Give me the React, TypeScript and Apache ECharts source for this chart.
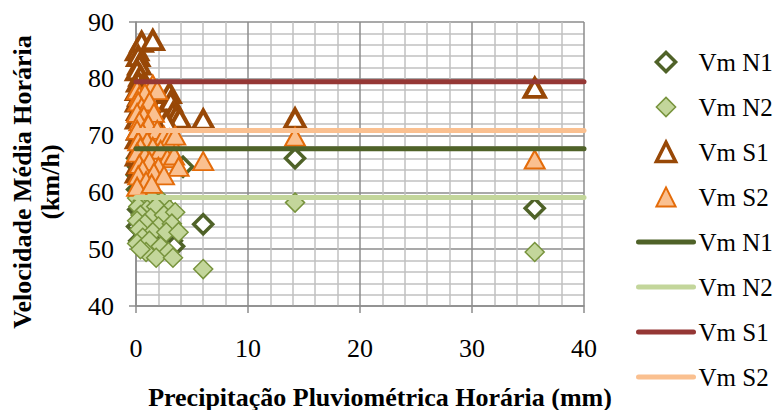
import React, { useEffect, useRef } from "react";
import * as echarts from "echarts";

// Vm N1 (hollow dark-green diamonds): [precipitation mm, speed km/h]
const n1Points: number[][] = [
  [0.1, 66], [0.2, 64.5], [0.1, 63], [0.3, 62], [4.2, 64.5], [0.1, 60.5], [0.4, 59.5],
  [1.0, 58], [0.2, 57], [1.5, 56], [0.5, 55], [2.0, 55.5], [0.1, 54], [3.0, 54],
  [0.8, 53], [2.6, 52.5], [3.2, 51.5], [2.8, 50.5], [3.4, 50.5], [0.3, 51.5], [1.5, 51],
  [6.0, 54.4], [14.2, 66], [35.6, 57.2],
];
// Vm N2 (filled light-green diamonds)
const n2Points: number[][] = [
  [0.1, 59], [0.6, 58.5], [1.4, 59], [2.3, 58.5], [0.2, 57.5], [1.0, 57], [1.8, 57.5],
  [3.0, 57], [0.4, 56], [1.3, 55.5], [2.5, 56], [3.5, 56.5], [0.1, 55], [0.8, 54.5],
  [2.0, 54], [3.2, 54.5], [0.3, 53.5], [1.5, 53], [2.7, 53], [0.6, 52], [3.8, 53],
  [0.1, 51], [1.2, 51.5], [2.2, 50.5], [0.9, 49.5], [2.9, 49.5], [1.8, 48.5], [3.3, 48.5],
  [0.4, 50], [6.0, 46.5], [14.2, 58.2], [35.6, 49.5],
];
// Vm S1 (hollow brown triangles)
const s1Points: number[][] = [
  [0.1, 85], [0.5, 86.5], [1.5, 86.8], [0.2, 84], [0.3, 82.5], [0.1, 81.5], [0.4, 80.5],
  [0.2, 79.5], [0.6, 79], [0.1, 78], [0.9, 78.5], [0.3, 77], [1.3, 77.5], [0.1, 76],
  [0.6, 75.5], [1.8, 76], [2.2, 75.5], [0.2, 74.5], [1.0, 74], [2.6, 74.5], [3.0, 77.5],
  [3.1, 76], [3.3, 74], [3.6, 73.5], [3.9, 73], [2.7, 72.5], [0.1, 73], [0.5, 72],
  [1.5, 73], [0.2, 71], [0.1, 69.5], [0.3, 68], [0.1, 66.5], [0.2, 65], [0.1, 63.5],
  [6.0, 72.8], [14.2, 73], [35.6, 78.4],
];
// Vm S2 (filled light-orange triangles)
const s2Points: number[][] = [
  [0.1, 78], [1.5, 79], [0.3, 77], [0.8, 77.5], [1.9, 78], [0.2, 76], [0.5, 75],
  [1.2, 76], [0.1, 74], [0.7, 73.5], [1.6, 74], [0.3, 72.5], [1.1, 72], [0.1, 71],
  [0.6, 70.5], [1.9, 71], [2.5, 70], [0.2, 69], [1.0, 69], [3.0, 69.5], [3.5, 70],
  [0.4, 68], [1.5, 68], [2.2, 67.5], [0.1, 67], [0.8, 66.5], [2.8, 66], [3.4, 66.5],
  [0.3, 65], [1.2, 65.5], [2.0, 64.5], [0.6, 64], [3.8, 64.5], [1.6, 63.5], [0.2, 63],
  [2.5, 63], [0.9, 62], [0.1, 61], [1.4, 61.5], [6.0, 65.5], [14.2, 69.8], [35.6, 65.8],
];

// Mean speeds (horizontal lines)
const meanN1 = 67.7;
const meanN2 = 59.1;
const meanS1 = 79.5;
const meanS2 = 70.9;
const lineXRange = [0, 40];

const xTicks = [0, 10, 20, 30, 40];
const yTicks = [40, 50, 60, 70, 80, 90];

const xTitle = "Precipitação Pluviométrica Horária (mm)";
const yTitle1 = "Velocidade Média Horária";
const yTitle2 = "(km/h)";

const FONT = "Liberation Serif";

const C = {
  n1: "#4f6228",
  n2Fill: "#c3d69b",
  n2Border: "#77933c",
  s1: "#984807",
  s1Line: "#953735",
  s2Fill: "#fac090",
  s2Border: "#e46c0a",
};

function meanLine(name: string, value: number, color: string, z: number) {
  return {
    type: "line",
    name,
    data: lineXRange.map((x) => [x, value]),
    symbol: "none",
    lineStyle: { color, width: 5, cap: "round" },
    itemStyle: { color },
    z,
    silent: true,
  };
}

function pointSeries(
  name: string,
  data: number[][],
  symbol: string,
  size: number | number[],
  fill: string,
  border: string,
  borderWidth: number,
  z: number
) {
  return {
    type: "line",
    name,
    data,
    symbol,
    symbolSize: size,
    showSymbol: true,
    showAllSymbol: true,
    lineStyle: { width: 0, opacity: 0 },
    itemStyle: { color: fill, borderColor: border, borderWidth, opacity: 1 },
    z,
    silent: true,
  };
}

export default function App() {
  const ref = useRef<HTMLDivElement>(null);

  useEffect(() => {
    if (!ref.current) return;
    const chart = echarts.init(ref.current, null, { renderer: "svg" });
    const hiddenSym = { opacity: 0 };
    const legendLine = (color: string) => ({ color, width: 5, cap: "round", opacity: 1 });
    const option: any = {
      animation: false,
      backgroundColor: "#ffffff",
      grid: { left: 136, right: 191, top: 22, bottom: 104 },
      xAxis: {
        type: "value",
        min: xTicks[0],
        max: xTicks[xTicks.length - 1],
        interval: 10,
        axisLine: { show: true, onZero: false, lineStyle: { color: "#8c8c8c", width: 1.5 } },
        axisTick: { show: true, length: 7, lineStyle: { color: "#8c8c8c", width: 1.5 } },
        axisLabel: { margin: 29, fontFamily: FONT, fontSize: 26, color: "#000" },
        splitLine: { show: true, lineStyle: { color: "#8c8c8c", width: 1.5 } },
        minorTick: { show: false, splitNumber: 5 },
        minorSplitLine: { show: true, lineStyle: { color: "#c0c0c0", width: 1.5 } },
      },
      yAxis: {
        type: "value",
        min: yTicks[0],
        max: yTicks[yTicks.length - 1],
        interval: 10,
        axisLine: { show: true, onZero: false, lineStyle: { color: "#8c8c8c", width: 1.5 } },
        axisTick: { show: true, length: 7, lineStyle: { color: "#8c8c8c", width: 1.5 } },
        axisLabel: { margin: 22, fontFamily: FONT, fontSize: 26, color: "#000" },
        splitLine: { show: true, lineStyle: { color: "#8c8c8c", width: 1.5 } },
        minorTick: { show: false, splitNumber: 5 },
        minorSplitLine: { show: true, lineStyle: { color: "#c0c0c0", width: 1.5 } },
      },
      legend: {
        orient: "vertical",
        left: 631,
        top: 44,
        itemWidth: 55,
        itemHeight: 24,
        itemGap: 19,
        selectedMode: false,
        formatter: (n: string) => n.trim(),
        textStyle: { fontFamily: FONT, fontSize: 25, color: "#000", lineHeight: 26 },
        data: [
          { name: "Vm N1", itemStyle: { color: "#fff", borderColor: C.n1, borderWidth: 3.5 } },
          { name: "Vm N2", itemStyle: { color: C.n2Fill, borderColor: C.n2Border, borderWidth: 1.5 } },
          { name: "Vm S1", itemStyle: { color: "#fff", borderColor: C.s1, borderWidth: 3.5 } },
          { name: "Vm S2", itemStyle: { color: C.s2Fill, borderColor: C.s2Border, borderWidth: 2 } },
          { name: "Vm N1 ", itemStyle: hiddenSym, lineStyle: legendLine(C.n1) },
          { name: "Vm N2 ", itemStyle: hiddenSym, lineStyle: legendLine(C.n2Fill) },
          { name: "Vm S1 ", itemStyle: hiddenSym, lineStyle: legendLine(C.s1Line) },
          { name: "Vm S2 ", itemStyle: hiddenSym, lineStyle: legendLine(C.s2Fill) },
        ],
      },
      graphic: [
        {
          type: "text",
          x: 22,
          y: 182,
          rotation: Math.PI / 2,
          style: {
            text: yTitle1,
            fontFamily: FONT,
            fontWeight: "bold",
            fontSize: 26,
            fill: "#000",
            align: "center",
            verticalAlign: "middle",
          },
        },
        {
          type: "text",
          x: 50,
          y: 182,
          rotation: Math.PI / 2,
          style: {
            text: yTitle2,
            fontFamily: FONT,
            fontWeight: "bold",
            fontSize: 26,
            fill: "#000",
            align: "center",
            verticalAlign: "middle",
          },
        },
        {
          type: "text",
          x: 380,
          y: 397,
          style: {
            text: xTitle,
            fontFamily: FONT,
            fontWeight: "bold",
            fontSize: 26,
            fill: "#000",
            align: "center",
            verticalAlign: "middle",
          },
        },
      ],
      series: [
        pointSeries("Vm N1", n1Points, "diamond", 19, "#ffffff", C.n1, 3.5, 2),
        pointSeries("Vm N2", n2Points, "diamond", 19, C.n2Fill, C.n2Border, 1.5, 3),
        pointSeries("Vm S1", s1Points, "triangle", [20, 18], "#ffffff", C.s1, 4, 4),
        pointSeries("Vm S2", s2Points, "triangle", [20, 18], C.s2Fill, C.s2Border, 2, 5),
        meanLine("Vm N1 ", meanN1, C.n1, 6),
        meanLine("Vm N2 ", meanN2, C.n2Fill, 6),
        meanLine("Vm S1 ", meanS1, C.s1Line, 6),
        meanLine("Vm S2 ", meanS2, C.s2Fill, 6),
      ],
    };
    chart.setOption(option);
    return () => chart.dispose();
  }, []);

  return (
    <div
      ref={ref}
      style={{ position: "absolute", left: 0, top: 0, width: 775, height: 410 }}
    />
  );
}
